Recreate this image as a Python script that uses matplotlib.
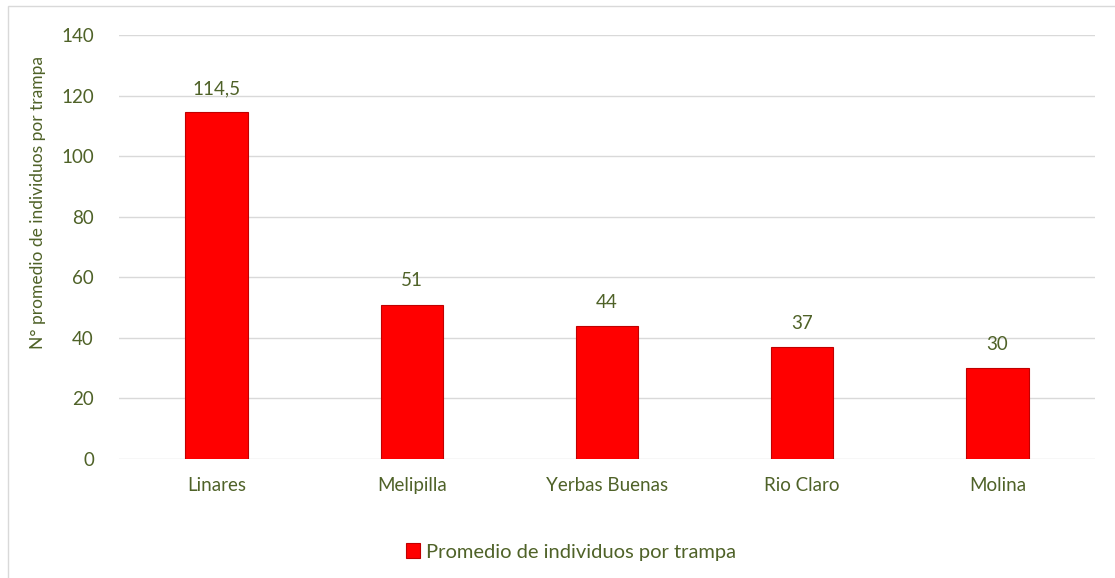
from matplotlib import pyplot as plt
from matplotlib.patches import Rectangle
import numpy as np

sitios = ['Linares', 'Melipilla', 'Yerbas Buenas', 'Rio Claro', 'Molina']
promedio = [114.5, 51, 44, 37, 30]
etiquetas = ['114,5', '51', '44', '37', '30']
yticks = [0, 20, 40, 60, 80, 100, 120, 140]

verde = '#4F6228'
plt.rcParams['font.family'] = ['Lato', 'DejaVu Sans']

fig = plt.figure(figsize=(11.15, 5.78), dpi=100)
ax = fig.add_axes([0.1067, 0.2059, 0.8753, 0.7335])

x = np.arange(len(sitios))
bars = ax.bar(x, promedio, width=0.32, color='#FF0000', edgecolor='#C00000',
              linewidth=0.8, label='Promedio de individuos por trampa', zorder=3)

for b, t in zip(bars, etiquetas):
    ax.annotate(t, xy=(b.get_x() + b.get_width() / 2, b.get_height()),
                xytext=(0, 17), textcoords='offset points',
                ha='center', va='center', fontsize=13.5, color=verde)

ax.set_xlim(-0.5, len(sitios) - 0.5)
ax.set_ylim(0, 140)
ax.set_yticks(yticks)
ax.set_xticks(x)
ax.set_xticklabels(sitios)
ax.tick_params(axis='both', length=0, labelsize=13.5, colors=verde)
ax.tick_params(axis='y', pad=18)
ax.tick_params(axis='x', pad=13)
ax.grid(axis='y', color='#D9D9D9', linewidth=1, zorder=0)
for s in ax.spines.values():
    s.set_visible(False)

fig.text(38 / 1115, 0.649, 'N° promedio de individuos por trampa', rotation=90,
         ha='center', va='center', fontsize=12.5, color=verde)

leg = fig.legend(handles=[bars], loc='center', bbox_to_anchor=(0.512, 1 - 552 / 578),
                 frameon=False, fontsize=14.5, handlelength=0.7, handleheight=0.7,
                 handletextpad=0.3)
for t in leg.get_texts():
    t.set_color(verde)

fig.patches.append(Rectangle((8 / 1115, -0.01), 1.1, 1 - 6 / 578 + 0.01,
                             transform=fig.transFigure, fill=False,
                             edgecolor='#D9D9D9', linewidth=1))

fig.savefig('out.png', dpi=100)
